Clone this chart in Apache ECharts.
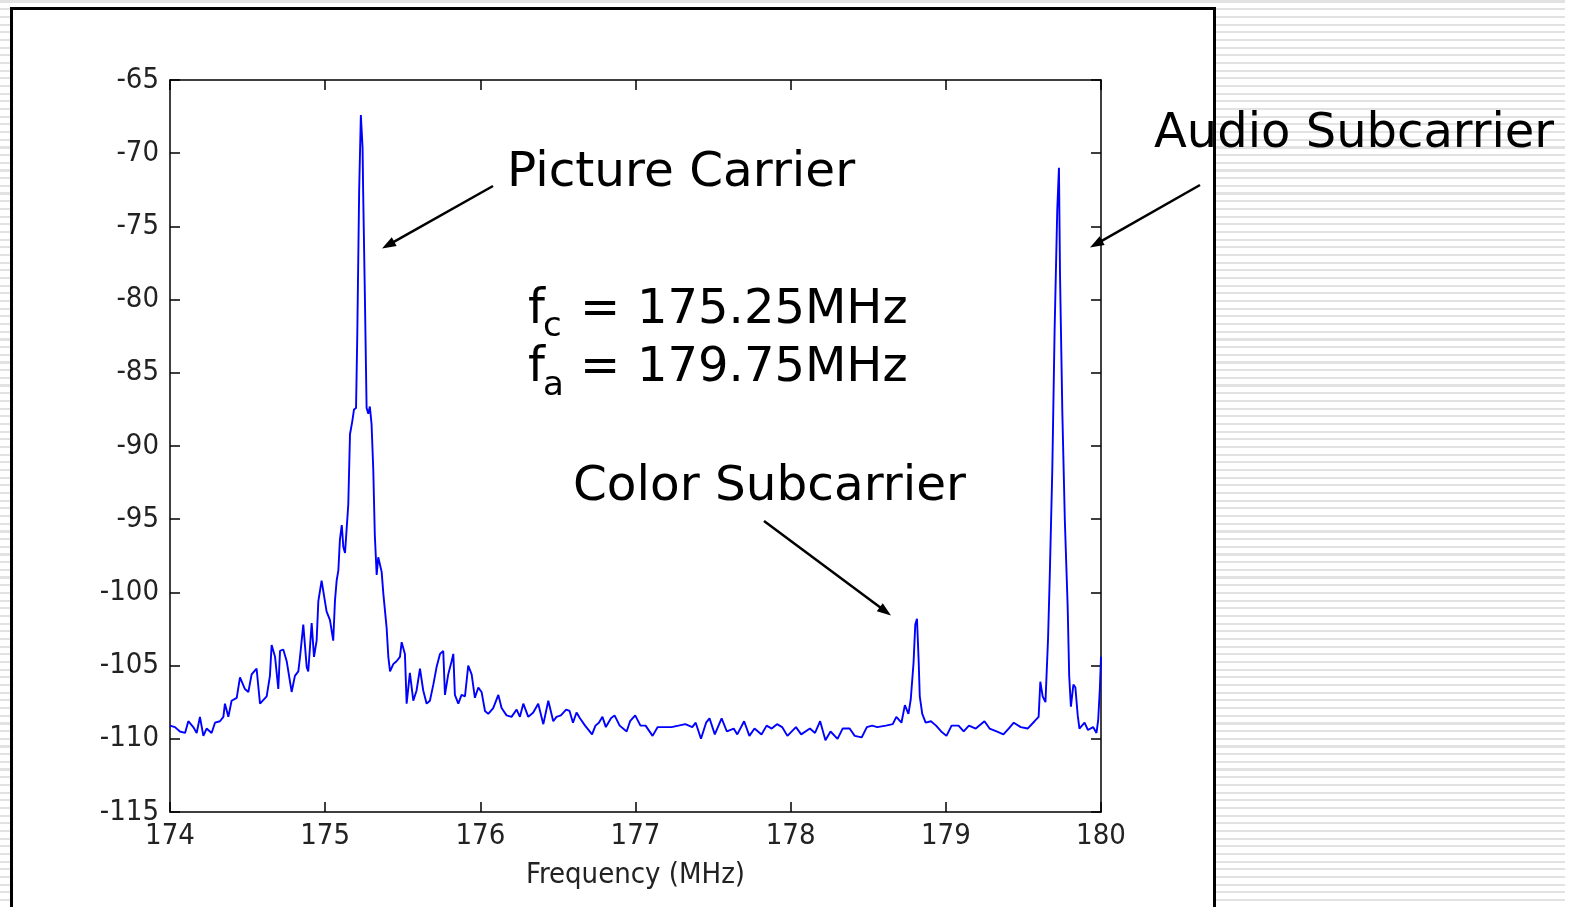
<!DOCTYPE html>
<html>
<head>
<meta charset="utf-8">
<script src="https://cdn.jsdelivr.net/npm/echarts@6/dist/echarts.min.js"></script>
<style>
  html, body { margin: 0; padding: 0; width: 1577px; height: 907px; overflow: hidden; background: #fff; }
  #bg { position: absolute; left: 0; top: 0; width: 1565px; height: 907px;
        background: repeating-linear-gradient(to bottom, #fff 0px, #fff 0.5px, #e2e2e2 0.5px, #e2e2e2 2.6px, #fff 2.6px, #fff 7.68px); }
  #c { position: absolute; left: 0; top: 0; width: 1577px; height: 907px; }
</style>
</head>
<body>
<div id="bg"></div>
<div id="c"></div>
<script>
// ---- data: [frequency MHz, power dB] ----
const noiseLeft = [[174.000,-109.1],[174.032,-109.2],[174.064,-109.5],[174.097,-109.6],[174.118,-108.8],[174.150,-109.2],[174.172,-109.6],[174.193,-108.5],[174.215,-109.8],[174.236,-109.3],[174.268,-109.6],[174.290,-108.9],[174.322,-108.8],[174.344,-108.5],[174.354,-107.6],[174.376,-108.5],[174.397,-107.4],[174.430,-107.2],[174.451,-105.8],[174.483,-106.6],[174.505,-106.8],[174.526,-105.6],[174.558,-105.2],[174.580,-107.6],[174.623,-107.1],[174.644,-105.7],[174.655,-103.6],[174.677,-104.4],[174.698,-106.6],[174.709,-104.0],[174.730,-103.9],[174.752,-104.7],[174.784,-106.8],[174.805,-105.7],[174.827,-105.4],[174.838,-104.4],[174.859,-102.2],[174.881,-105.1],[174.891,-105.4],[174.913,-102.1],[174.928,-104.4],[174.945,-103.3],[174.956,-100.6],[174.977,-99.2],[175.009,-101.3],[175.031,-101.9],[175.052,-103.3],[175.063,-100.6]];
const pictureCarrier = [[175.074,-99.2],[175.085,-98.5],[175.095,-96.4],[175.107,-95.4],[175.117,-96.9],[175.128,-97.3],[175.139,-97.3],[175.149,-94.0],[175.160,-89.2],[175.175,-88.3],[175.186,-87.5],[175.199,-87.4],[175.207,-82.4],[175.219,-72.6],[175.230,-67.4],[175.241,-69.6],[175.245,-72.7],[175.256,-79.8],[175.267,-87.4],[175.278,-87.8],[175.288,-87.3],[175.299,-88.5],[175.310,-91.6],[175.320,-96.1],[175.332,-98.8],[175.342,-97.6],[175.353,-98.1],[175.364,-98.6],[175.375,-100.1]];
const shoulderRight = [[175.396,-102.4],[175.407,-104.4],[175.418,-105.4],[175.439,-104.9],[175.460,-104.7],[175.482,-104.4],[175.493,-103.4],[175.514,-104.2],[175.525,-107.6],[175.546,-105.5],[175.568,-107.4],[175.589,-106.7],[175.611,-105.2],[175.632,-106.7],[175.654,-107.6],[175.675,-107.4],[175.697,-106.3],[175.718,-105.1],[175.740,-104.2],[175.761,-104.0],[175.772,-107.0],[175.793,-105.6],[175.815,-104.7],[175.826,-104.2],[175.836,-107.0],[175.858,-107.6],[175.879,-107.0],[175.901,-107.1],[175.922,-105.0],[175.944,-105.6],[175.965,-107.2],[175.987,-106.5],[176.008,-106.8],[176.030,-108.1],[176.051,-108.3],[176.083,-107.9],[176.116,-107.0],[176.137,-107.9],[176.169,-108.4],[176.201,-108.5],[176.234,-108.0],[176.255,-108.5],[176.277,-107.6],[176.309,-108.5],[176.341,-108.2],[176.373,-107.6],[176.406,-109.0],[176.438,-107.4],[176.470,-108.8],[176.491,-108.5]];
const midFloor = [[176.519,-108.4],[176.553,-108.0],[176.575,-108.1],[176.597,-108.9],[176.620,-108.2],[176.642,-108.6],[176.675,-109.1],[176.720,-109.7],[176.742,-109.1],[176.764,-108.9],[176.787,-108.5],[176.809,-109.2],[176.842,-108.6],[176.865,-108.4],[176.898,-109.1],[176.943,-109.5],[176.965,-108.8],[176.998,-108.4],[177.032,-109.1],[177.065,-109.1],[177.110,-109.8],[177.143,-109.2],[177.188,-109.2],[177.232,-109.2],[177.277,-109.1],[177.321,-109.0],[177.366,-109.2],[177.388,-108.9],[177.422,-110.0],[177.455,-108.9],[177.477,-108.6],[177.511,-109.7],[177.555,-108.6],[177.589,-109.5],[177.633,-109.3],[177.656,-109.7],[177.700,-108.8],[177.734,-109.8],[177.767,-109.3],[177.812,-109.7],[177.845,-109.1],[177.878,-109.3],[177.912,-109.0],[177.945,-109.2],[177.979,-109.8],[178.034,-109.2],[178.068,-109.7],[178.124,-109.3],[178.157,-109.6],[178.190,-108.8],[178.224,-110.1],[178.257,-109.5],[178.302,-110.0],[178.335,-109.3],[178.380,-109.3],[178.413,-109.8],[178.458,-109.9],[178.491,-109.2],[178.525,-109.1],[178.558,-109.2],[178.614,-109.1],[178.658,-109.0],[178.681,-108.5],[178.714,-108.9],[178.736,-107.7],[178.759,-108.3]];
const colorSubcarrier = [[178.774,-107.3],[178.792,-104.8],[178.803,-102.2],[178.814,-101.8],[178.825,-104.7],[178.832,-107.1],[178.848,-108.3]];
const floorRight = [[178.870,-108.9],[178.904,-108.8],[178.937,-109.1],[178.970,-109.5],[179.004,-109.8],[179.037,-109.1],[179.082,-109.1],[179.115,-109.5],[179.149,-109.1],[179.193,-109.3],[179.249,-108.8],[179.282,-109.3],[179.327,-109.5],[179.371,-109.7],[179.405,-109.3],[179.438,-108.9],[179.483,-109.2],[179.527,-109.3],[179.572,-108.8]];
const audioSubcarrier = [[179.598,-108.5],[179.609,-106.1],[179.624,-107.1],[179.642,-107.5],[179.659,-103.1],[179.670,-98.8],[179.686,-91.7],[179.701,-82.1],[179.718,-73.9],[179.729,-71.0],[179.736,-78.4],[179.751,-87.8],[179.767,-95.1],[179.785,-100.9],[179.795,-105.7],[179.806,-107.8],[179.822,-106.3],[179.835,-106.5],[179.850,-108.4],[179.861,-109.3],[179.894,-108.9],[179.916,-109.4],[179.949,-109.2],[179.971,-109.6],[179.982,-108.7],[179.993,-106.5],[180.000,-104.4]];

const xTicks = { min: 174, max: 180, step: 1 };
const yTicks = { min: -115, max: -65, step: 5 };
const xAxisTitle = 'Frequency (MHz)';
const annotations = {
  picture: 'Picture Carrier',
  audio: 'Audio Subcarrier',
  color: 'Color Subcarrier',
  fc: ['f', 'c', '=', '175.25MHz'],
  fa: ['f', 'a', '=', '179.75MHz']
};

const spectrum = [].concat(noiseLeft, pictureCarrier, shoulderRight, midFloor, colorSubcarrier, floorRight, audioSubcarrier);

// ---- chart ----
const tickFont = '"Liberation Sans Narrow","DejaVu Sans Condensed","Arial Narrow",sans-serif';
const annFont = '"DejaVu Sans", Verdana, sans-serif';

function arrow(x1, y1, x2, y2) {
  const dx = x2 - x1, dy = y2 - y1, L = Math.hypot(dx, dy);
  const ux = dx / L, uy = dy / L, hl = 14, hw = 5;
  const bx = x2 - ux * hl, by = y2 - uy * hl;
  return [
    { type: 'line', z: 50, shape: { x1: x1, y1: y1, x2: bx + ux * 2, y2: by + uy * 2 }, style: { stroke: '#000', lineWidth: 2.5 } },
    { type: 'polygon', z: 50, shape: { points: [[x2, y2], [bx - uy * hw, by + ux * hw], [bx + uy * hw, by - ux * hw]] }, style: { fill: '#000' } }
  ];
}
function txt(x, y, s, size) {
  return { type: 'text', z: 60, x: x, y: y,
    style: { text: s, fill: '#000', font: size + 'px ' + annFont, fontSize: size, fontFamily: annFont,
             align: 'left', verticalAlign: 'middle', textAlign: 'left', textVerticalAlign: 'middle' } };
}

const axisLineStyle = { color: '#000', width: 1.5 };
const chart = echarts.init(document.getElementById('c'), null, { renderer: 'canvas' });
chart.setOption({
  animation: false,
  backgroundColor: 'transparent',
  grid: { left: 170, right: 476, top: 80, bottom: 95, containLabel: false },
  xAxis: [
    { type: 'value', min: xTicks.min, max: xTicks.max, interval: xTicks.step, position: 'bottom',
      name: xAxisTitle, nameLocation: 'middle', nameGap: 49,
      nameTextStyle: { fontFamily: tickFont, fontSize: 29, color: '#222' },
      axisLine: { show: true, lineStyle: axisLineStyle },
      axisTick: { show: true, inside: true, length: 10, lineStyle: axisLineStyle },
      axisLabel: { show: true, margin: 10, fontFamily: tickFont, fontSize: 29, color: '#222' },
      splitLine: { show: false } },
    { type: 'value', min: xTicks.min, max: xTicks.max, interval: xTicks.step, position: 'top',
      axisLine: { show: true, lineStyle: axisLineStyle },
      axisTick: { show: true, inside: true, length: 10, lineStyle: axisLineStyle },
      axisLabel: { show: false }, splitLine: { show: false } }
  ],
  yAxis: [
    { type: 'value', min: yTicks.min, max: yTicks.max, interval: yTicks.step, position: 'left',
      axisLine: { show: true, lineStyle: axisLineStyle },
      axisTick: { show: true, inside: true, length: 10, lineStyle: axisLineStyle },
      axisLabel: { show: true, margin: 11, fontFamily: tickFont, fontSize: 29, color: '#222' },
      splitLine: { show: false } },
    { type: 'value', min: yTicks.min, max: yTicks.max, interval: yTicks.step, position: 'right',
      axisLine: { show: true, lineStyle: axisLineStyle },
      axisTick: { show: true, inside: true, length: 10, lineStyle: axisLineStyle },
      axisLabel: { show: false }, splitLine: { show: false } }
  ],
  series: [{
    type: 'line', data: spectrum, xAxisIndex: 0, yAxisIndex: 0,
    showSymbol: false, symbol: 'none', z: 3,
    lineStyle: { color: '#0000ff', width: 1.9 }
  }],
  graphic: [
    { type: 'rect', z: -10, shape: { x: 11.5, y: 8.5, width: 1203, height: 1000 }, style: { fill: '#fff', stroke: '#000', lineWidth: 3 } },
    ...arrow(493, 186, 382, 248.5),
    ...arrow(1200, 185, 1090, 247.5),
    ...arrow(764, 521, 891, 615.5),
    txt(507, 173, annotations.picture, 48.5),
    txt(1154, 135, annotations.audio, 48),
    txt(573, 487, annotations.color, 48.5),
    txt(528, 311, annotations.fc[0], 48),
    txt(543, 327, annotations.fc[1], 34),
    txt(580, 311, annotations.fc[2], 48),
    txt(637, 311, annotations.fc[3], 48),
    txt(528, 369, annotations.fa[0], 48),
    txt(543, 386, annotations.fa[1], 34),
    txt(580, 369, annotations.fa[2], 48),
    txt(637, 369, annotations.fa[3], 48)
  ]
});
</script>
</body>
</html>
